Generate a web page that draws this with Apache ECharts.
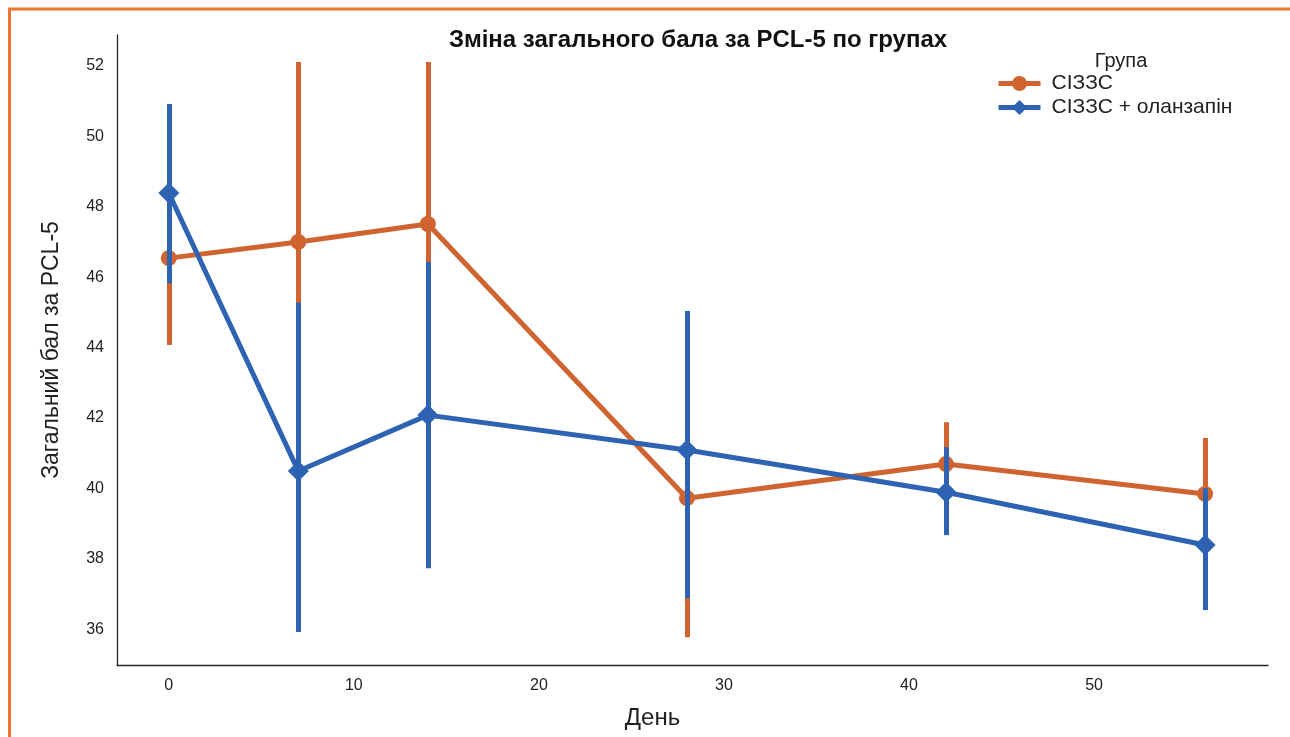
<!DOCTYPE html>
<html>
<head>
<meta charset="utf-8">
<title>Зміна загального бала за PCL-5 по групах</title>
<script src="https://cdn.jsdelivr.net/npm/echarts@6/dist/echarts.min.js"></script>
<style>
  html, body { margin: 0; padding: 0; background: #ffffff; }
  #chart { width: 1290px; height: 737px; }
</style>
</head>
<body>
<div id="chart"></div>
<script>
// Days of observation
const days = [0, 7, 14, 28, 42, 56];

// СІЗЗС group: mean and 95% CI bounds
const ssriMean = [46.54, 47.0, 47.51, 39.72, 40.69, 39.84];
const ssriLow  = [44.07, 41.89, 42.9, 35.77, 39.5, 38.25];
const ssriHigh = [49.0, 52.11, 52.11, 43.67, 41.88, 41.43];

// СІЗЗС + оланзапін group: mean and 95% CI bounds
const olzMean = [48.39, 40.49, 42.08, 41.09, 39.89, 38.39];
const olzLow  = [45.83, 35.92, 37.73, 36.88, 38.67, 36.54];
const olzHigh = [50.92, 45.27, 46.43, 45.04, 41.17, 40.0];

const groupNames = ['СІЗЗС', 'СІЗЗС + оланзапін'];
const colors = ['#cf6431', '#2e62b2'];

const FONT = 'Liberation Sans, Arial, sans-serif';

function meanData(means) {
  return days.map((d, i) => [d, means[i]]);
}
function ciData(lows, highs) {
  return days.map((d, i) => [d, lows[i], highs[i]]);
}
// Vertical confidence-interval bar for each day (snapped to the pixel grid)
function ciRenderer(color) {
  return function (params, api) {
    const x = api.value(0);
    const lo = api.coord([x, api.value(1)]);
    const hi = api.coord([x, api.value(2)]);
    const px = Math.round(lo[0]) + 0.5;
    return {
      type: 'line',
      shape: { x1: px, y1: lo[1], x2: px, y2: hi[1] },
      style: { stroke: color, lineWidth: 5, lineCap: 'butt' }
    };
  };
}

const chart = echarts.init(document.getElementById('chart'), null, { renderer: 'canvas' });

chart.setOption({
  backgroundColor: '#ffffff',
  animation: false,
  title: [
    {
      text: 'Зміна загального бала за PCL-5 по групах',
      left: 693,
      textAlign: 'center',
      top: 23,
      textStyle: { fontFamily: FONT, fontSize: 24, fontWeight: 'bold', color: '#111' }
    },
    {
      text: 'Група',
      left: 1116,
      textAlign: 'center',
      top: 46,
      textStyle: { fontFamily: FONT, fontSize: 20, fontWeight: 'normal', color: '#222' }
    }
  ],
  legend: {
    data: groupNames,
    orient: 'vertical',
    left: 991,
    top: 68,
    itemWidth: 42,
    itemHeight: 19,
    itemGap: 3,
    lineStyle: { width: 5 },
    textStyle: { fontFamily: FONT, fontSize: 21, color: '#222', padding: [0, 0, 0, 6] }
  },
  grid: { left: 117, right: 22, top: 35, bottom: 72 },
  xAxis: {
    type: 'value',
    min: -2.8,
    max: 59.4,
    minInterval: 10,
    maxInterval: 10,
    name: 'День',
    nameLocation: 'middle',
    nameGap: 41,
    nameTextStyle: { fontFamily: FONT, fontSize: 24, color: '#222', padding: [0, 80, 0, 0] },
    axisLine: { show: true, onZero: false, lineStyle: { color: '#262626', width: 1.3 } },
    axisTick: { show: false },
    splitLine: { show: false },
    axisLabel: {
      fontFamily: FONT, fontSize: 16, color: '#222', margin: 13,
      formatter: v => (Math.abs(v % 10) < 1e-9 ? String(v) : '')
    }
  },
  yAxis: {
    type: 'value',
    min: 34.98,
    max: 52.88,
    minInterval: 2,
    maxInterval: 2,
    name: 'Загальний бал за PCL-5',
    nameLocation: 'middle',
    nameGap: 54,
    nameTextStyle: { fontFamily: FONT, fontSize: 23, color: '#222' },
    axisLine: { show: true, onZero: false, lineStyle: { color: '#262626', width: 1.3 } },
    axisTick: { show: false },
    splitLine: { show: false },
    axisLabel: {
      fontFamily: FONT, fontSize: 16, color: '#222', margin: 13,
      formatter: v => (Math.abs(v % 2) < 1e-9 ? String(v) : '')
    }
  },
  series: [
    {
      name: 'ci-ssri',
      type: 'custom',
      z: 2,
      renderItem: ciRenderer(colors[0]),
      encode: { x: 0, y: [1, 2] },
      data: ciData(ssriLow, ssriHigh)
    },
    {
      name: groupNames[0],
      type: 'line',
      z: 3,
      data: meanData(ssriMean),
      symbol: 'circle',
      symbolSize: 16,
      lineStyle: { color: colors[0], width: 5 },
      itemStyle: { color: colors[0] }
    },
    {
      name: 'ci-olz',
      type: 'custom',
      z: 4,
      renderItem: ciRenderer(colors[1]),
      encode: { x: 0, y: [1, 2] },
      data: ciData(olzLow, olzHigh)
    },
    {
      name: groupNames[1],
      type: 'line',
      z: 5,
      data: meanData(olzMean),
      symbol: 'diamond',
      symbolSize: 21,
      lineStyle: { color: colors[1], width: 5 },
      itemStyle: { color: colors[1] }
    }
  ],
  graphic: [
    {
      type: 'line',
      silent: true,
      shape: { x1: 8, y1: 9, x2: 1290, y2: 9 },
      style: { stroke: '#f07432', lineWidth: 3 }
    },
    {
      type: 'line',
      silent: true,
      shape: { x1: 9.5, y1: 8, x2: 9.5, y2: 737 },
      style: { stroke: '#f07432', lineWidth: 3 }
    }
  ]
});
</script>
</body>
</html>
